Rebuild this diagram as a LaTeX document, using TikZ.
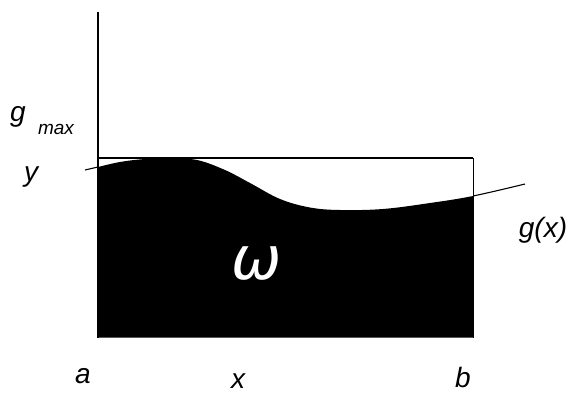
\documentclass[tikz,border=0pt]{standalone}
\usepackage{fontspec}
\setmainfont{Liberation Sans}
\newfontfamily\omegafont{DejaVu Sans}
\begin{document}
\begin{tikzpicture}[x=1pt,y=-1pt,
  lbl/.style={font=\itshape\fontsize{28}{28}\selectfont,inner sep=0pt}]
\useasboundingbox (0,0) rectangle (570,394);
\fill[white] (0,0) rectangle (570,394);
% filled region under g
\begin{scope}
\clip (98,158) rectangle (473,337.5);
\fill[black] (85,337.5) -- plot[smooth,tension=0.6] coordinates {(85,170)(98,167)(120,162)(145,159)(170,158.5)(197,160)(225,170)(250,183)(280,199)(310,207.5)(340,210)(383,209)(430,203)(473,196)(525,184)} -- (525,337.5) -- cycle;
\end{scope}
% curve ends outside
\begin{scope}
\clip (80,150) rectangle (98,180) (473,170) rectangle (540,210);
\draw[line width=1.1pt] plot[smooth,tension=0.6] coordinates {(85,170)(98,167)(120,162)(145,159)(170,158.5)(197,160)(225,170)(250,183)(280,199)(310,207.5)(340,210)(383,209)(430,203)(473,196)(525,184)};
\end{scope}
\coordinate (top) at (98,12);
\coordinate (orig) at (98,337.5);
\coordinate (tl) at (98,158);
\coordinate (tr) at (473,158);
\coordinate (br) at (473,337.5);
\draw[line width=2.6pt] (top) -- (orig);
\draw[line width=1.3pt] (tl) -- (tr);
\draw[line width=1pt] (tr) -- (br);
% labels
\node[lbl] (g) at (18,117) {g};
\node[lbl,font=\itshape\fontsize{19}{19}\selectfont] (max) at (56,129) {max};
\node[lbl] (y) at (31,177) {y};
\node[lbl] (gx) at (543,230) {g(x)};
\node[lbl] (a) at (83,376) {a};
\node[lbl] (x) at (238,381) {x};
\node[lbl] (b) at (463,377) {b};
\node[inner sep=0pt,text=white,font=\omegafont\itshape\fontsize{60}{60}\selectfont] (w) at (257,264) {ω};
\end{tikzpicture}
\end{document}
